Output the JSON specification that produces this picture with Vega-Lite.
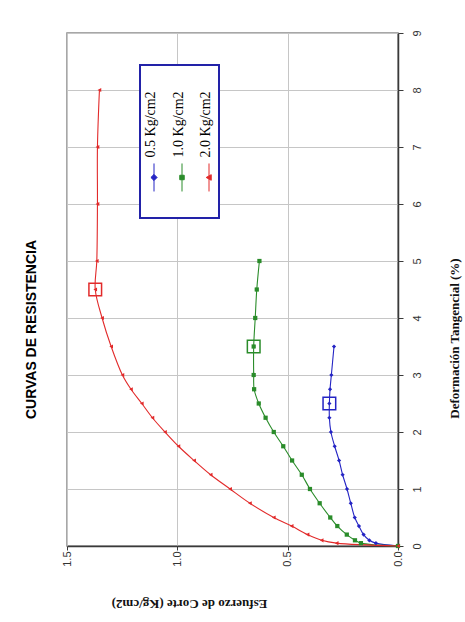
{
  "$schema": "https://vega.github.io/schema/vega-lite/v6.json",
  "width": 331,
  "height": 513,
  "padding": {"left": 24, "top": 29, "right": 5, "bottom": 9},
  "background": "white",
  "config": {
    "font": "Liberation Sans",
    "view": {"stroke": "#8a8a8a", "strokeWidth": 1.5},
    "axis": {
      "grid": true,
      "gridColor": "#c6c6c6",
      "gridWidth": 1,
      "domainColor": "#3a3a3a",
      "domainWidth": 1.5,
      "tickColor": "#3a3a3a",
      "labelColor": "#333333",
      "labelFont": "Liberation Sans",
      "labelFontSize": 11,
      "titleFont": "Liberation Serif",
      "titleFontSize": 13,
      "titleFontWeight": "bold",
      "titleColor": "#111111"
    }
  },
  "title": {
    "text": "CURVAS DE RESISTENCIA",
    "orient": "left",
    "anchor": "middle",
    "font": "Liberation Sans",
    "fontSize": 14,
    "fontWeight": "bold",
    "color": "#000000",
    "offset": 22,
    "dx": -40
  },
  "data": {
    "values": [
      {"series": "0.5 Kg/cm2", "def": 0, "stress": 0},
      {"series": "0.5 Kg/cm2", "def": 0.05, "stress": 0.1},
      {"series": "0.5 Kg/cm2", "def": 0.1, "stress": 0.13},
      {"series": "0.5 Kg/cm2", "def": 0.2, "stress": 0.156},
      {"series": "0.5 Kg/cm2", "def": 0.35, "stress": 0.177},
      {"series": "0.5 Kg/cm2", "def": 0.5, "stress": 0.196},
      {"series": "0.5 Kg/cm2", "def": 0.75, "stress": 0.214},
      {"series": "0.5 Kg/cm2", "def": 1.0, "stress": 0.231},
      {"series": "0.5 Kg/cm2", "def": 1.25, "stress": 0.251},
      {"series": "0.5 Kg/cm2", "def": 1.5, "stress": 0.267},
      {"series": "0.5 Kg/cm2", "def": 1.75, "stress": 0.287},
      {"series": "0.5 Kg/cm2", "def": 2.0, "stress": 0.304},
      {"series": "0.5 Kg/cm2", "def": 2.25, "stress": 0.311},
      {"series": "0.5 Kg/cm2", "def": 2.5, "stress": 0.311, "peak": true},
      {"series": "0.5 Kg/cm2", "def": 2.75, "stress": 0.308},
      {"series": "0.5 Kg/cm2", "def": 3.0, "stress": 0.302},
      {"series": "0.5 Kg/cm2", "def": 3.5, "stress": 0.29},
      {"series": "1.0 Kg/cm2", "def": 0, "stress": 0},
      {"series": "1.0 Kg/cm2", "def": 0.05, "stress": 0.168},
      {"series": "1.0 Kg/cm2", "def": 0.1, "stress": 0.195},
      {"series": "1.0 Kg/cm2", "def": 0.2, "stress": 0.232},
      {"series": "1.0 Kg/cm2", "def": 0.35, "stress": 0.275},
      {"series": "1.0 Kg/cm2", "def": 0.5, "stress": 0.307},
      {"series": "1.0 Kg/cm2", "def": 0.75, "stress": 0.355},
      {"series": "1.0 Kg/cm2", "def": 1.0, "stress": 0.399},
      {"series": "1.0 Kg/cm2", "def": 1.25, "stress": 0.436},
      {"series": "1.0 Kg/cm2", "def": 1.5, "stress": 0.48},
      {"series": "1.0 Kg/cm2", "def": 1.75, "stress": 0.52},
      {"series": "1.0 Kg/cm2", "def": 2.0, "stress": 0.563},
      {"series": "1.0 Kg/cm2", "def": 2.25, "stress": 0.6},
      {"series": "1.0 Kg/cm2", "def": 2.5, "stress": 0.631},
      {"series": "1.0 Kg/cm2", "def": 2.75, "stress": 0.652},
      {"series": "1.0 Kg/cm2", "def": 3.0, "stress": 0.654},
      {"series": "1.0 Kg/cm2", "def": 3.5, "stress": 0.654, "peak": true},
      {"series": "1.0 Kg/cm2", "def": 4.0, "stress": 0.647},
      {"series": "1.0 Kg/cm2", "def": 4.5, "stress": 0.64},
      {"series": "1.0 Kg/cm2", "def": 5.0, "stress": 0.628},
      {"series": "2.0 Kg/cm2", "def": 0, "stress": 0},
      {"series": "2.0 Kg/cm2", "def": 0.05, "stress": 0.278},
      {"series": "2.0 Kg/cm2", "def": 0.1, "stress": 0.346},
      {"series": "2.0 Kg/cm2", "def": 0.2, "stress": 0.41},
      {"series": "2.0 Kg/cm2", "def": 0.35, "stress": 0.482},
      {"series": "2.0 Kg/cm2", "def": 0.5, "stress": 0.563},
      {"series": "2.0 Kg/cm2", "def": 0.75, "stress": 0.671},
      {"series": "2.0 Kg/cm2", "def": 1.0, "stress": 0.761},
      {"series": "2.0 Kg/cm2", "def": 1.25, "stress": 0.849},
      {"series": "2.0 Kg/cm2", "def": 1.5, "stress": 0.924},
      {"series": "2.0 Kg/cm2", "def": 1.75, "stress": 0.995},
      {"series": "2.0 Kg/cm2", "def": 2.0, "stress": 1.056},
      {"series": "2.0 Kg/cm2", "def": 2.25, "stress": 1.113},
      {"series": "2.0 Kg/cm2", "def": 2.5, "stress": 1.161},
      {"series": "2.0 Kg/cm2", "def": 2.75, "stress": 1.21},
      {"series": "2.0 Kg/cm2", "def": 3.0, "stress": 1.249},
      {"series": "2.0 Kg/cm2", "def": 3.5, "stress": 1.3},
      {"series": "2.0 Kg/cm2", "def": 4.0, "stress": 1.341},
      {"series": "2.0 Kg/cm2", "def": 4.5, "stress": 1.372, "peak": true},
      {"series": "2.0 Kg/cm2", "def": 5.0, "stress": 1.365},
      {"series": "2.0 Kg/cm2", "def": 6.0, "stress": 1.362},
      {"series": "2.0 Kg/cm2", "def": 7.0, "stress": 1.362},
      {"series": "2.0 Kg/cm2", "def": 8.0, "stress": 1.353}
    ]
  },
  "encoding": {
    "x": {
      "field": "stress",
      "type": "quantitative",
      "scale": {"domain": [0, 1.5], "reverse": true, "nice": false, "zero": false},
      "axis": {
        "orient": "bottom",
        "values": [0, 0.5, 1, 1.5],
        "format": ".1f",
        "labelAngle": -90,
        "labelAlign": "right",
        "labelBaseline": "middle",
        "tickSize": 4,
        "labelPadding": 1,
        "title": "Esfuerzo de Corte (Kg/cm2)",
        "titleAngle": 180,
        "titleAlign": "center",
        "titleBaseline": "middle",
        "titleX": 122,
        "titleY": 57
      }
    },
    "y": {
      "field": "def",
      "type": "quantitative",
      "scale": {"domain": [0, 9], "nice": false},
      "axis": {
        "orient": "right",
        "values": [0, 1, 2, 3, 4, 5, 6, 7, 8, 9],
        "labelAngle": -90,
        "labelAlign": "center",
        "labelBaseline": "top",
        "tickSize": 5,
        "labelPadding": 8,
        "title": "Deformación Tangencial (%)",
        "titleAngle": -90,
        "titleAlign": "center",
        "titleBaseline": "middle",
        "titleX": 56,
        "titleY": 305
      }
    }
  },
  "layer": [
    {
      "mark": {"type": "line", "interpolate": "catmull-rom", "strokeWidth": 1.1},
      "encoding": {
        "order": {"field": "def", "type": "quantitative"},
        "color": {
          "field": "series",
          "type": "nominal",
          "scale": {
            "domain": ["0.5 Kg/cm2", "1.0 Kg/cm2", "2.0 Kg/cm2"],
            "range": ["#2424c4", "#2a8c2a", "#e22a2a"]
          },
          "legend": {
            "title": null,
            "orient": "none",
            "legendX": 73,
            "legendY": 32,
            "direction": "horizontal",
            "fillColor": "white",
            "strokeColor": "#2222a8",
            "padding": 5,
            "columnPadding": 12,
            "symbolSize": 784,
            "symbolStrokeWidth": 1,
            "symbolType": "M0,-1V1M0,-0.22L0.22,0L0,0.22L-0.22,0ZM0,2.36h0.0001",
            "labelFont": "Liberation Serif",
            "labelFontSize": 14,
            "labelColor": "#000000",
            "labelLimit": 200,
            "encoding": {
              "legend": {"strokeWidth": {"value": 2}},
              "labels": {
                "angle": {"value": -90},
                "align": {"value": "left"},
                "baseline": {"value": "middle"},
                "x": {"value": 6},
                "y": {"value": 87},
                "dx": {"value": 0}
              },
              "symbols": {
                "x": {"value": 9},
                "y": {"value": 107},
                "shape": {
                  "condition": [
                    {"test": "datum.value === '0.5 Kg/cm2'", "value": "M0,-1V1M0,-0.22L0.22,0L0,0.22L-0.22,0ZM0,2.36h0.0001"},
                    {"test": "datum.value === '1.0 Kg/cm2'", "value": "M0,-1V1M-0.16,-0.16H0.16V0.16H-0.16ZM0,2.36h0.0001"}
                  ],
                  "value": "M0,-1V1M-0.2,0L0.16,-0.2L0.16,0.2ZM0,2.36h0.0001"
                },
                "fill": {
                  "condition": [
                    {"test": "datum.value === '0.5 Kg/cm2'", "value": "#2424c4"},
                    {"test": "datum.value === '1.0 Kg/cm2'", "value": "#2a8c2a"}
                  ],
                  "value": "#e22a2a"
                },
                "stroke": {
                  "condition": [
                    {"test": "datum.value === '0.5 Kg/cm2'", "value": "#2424c4"},
                    {"test": "datum.value === '1.0 Kg/cm2'", "value": "#2a8c2a"}
                  ],
                  "value": "#e22a2a"
                },
                "strokeWidth": {"value": 1},
                "opacity": {"value": 1}
              }
            }
          }
        }
      }
    },
    {
      "mark": {"type": "point", "filled": true, "size": 18, "opacity": 1},
      "encoding": {
        "color": {"field": "series", "type": "nominal", "legend": null},
        "shape": {
          "condition": [
            {"test": "datum.series === '0.5 Kg/cm2'", "value": "diamond"},
            {"test": "datum.series === '1.0 Kg/cm2'", "value": "square"}
          ],
          "value": "triangle-left"
        }
      }
    },
    {
      "transform": [{"filter": "datum.peak === true"}],
      "mark": {"type": "point", "shape": "square", "filled": false, "size": 160, "strokeWidth": 1.5, "opacity": 1},
      "encoding": {
        "color": {"field": "series", "type": "nominal", "legend": null}
      }
    }
  ]
}
